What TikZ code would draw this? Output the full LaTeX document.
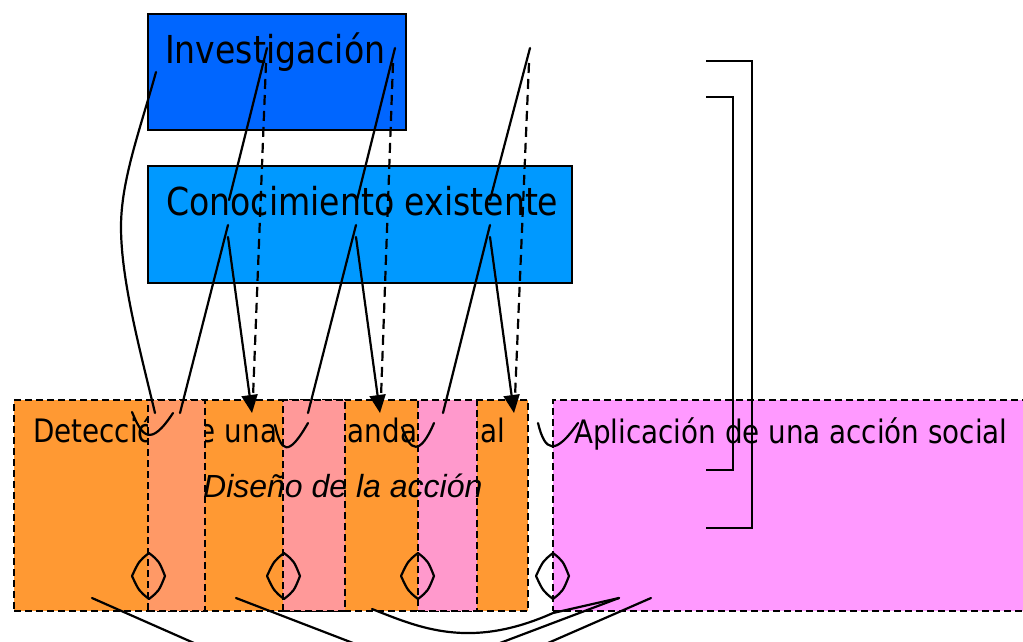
\documentclass[tikz,border=0pt]{standalone}
\usepackage{fontspec}
\newfontfamily\tah{DejaVu Sans}[FakeStretch=0.86]
\newfontfamily\ari{Liberation Sans}
\usetikzlibrary{arrows.meta}
\definecolor{invblue}{HTML}{0066FF}
\definecolor{conblue}{HTML}{0099FF}
\definecolor{orng}{HTML}{FF9933}
\definecolor{salmon}{HTML}{FF9966}
\definecolor{rosa}{HTML}{FF9999}
\definecolor{rosb}{HTML}{FF99CC}
\definecolor{magen}{HTML}{FF99FF}
\tikzset{
  solidbox/.style={draw=black, line width=1.8pt, inner sep=0pt, outer sep=0pt, anchor=north west},
  dashbox/.style={draw=black, line width=2pt, dash pattern=on 7pt off 4pt, inner sep=0pt, outer sep=0pt, anchor=north west},
  conn/.style={line width=2.2pt, line cap=round, line join=round},
  dconn/.style={line width=2.2pt, dash pattern=on 10pt off 6pt},
  arr/.style={conn, -{Triangle[length=18pt,width=16pt]}},
  bigtext/.style={font=\tah\fontsize{38.5}{40}\selectfont, anchor=base west, inner sep=0pt},
  midtext/.style={font=\tah\fontsize{32.3}{36}\selectfont, anchor=base west, inner sep=0pt},
  ittext/.style={font=\ari\itshape\fontsize{32}{36}\selectfont, anchor=base west, inner sep=0pt},
}
\begin{document}
\begin{tikzpicture}[x=1pt,y=-1pt]
\useasboundingbox (0,0) rectangle (1023,641);
% bottom boxes
\node[dashbox, fill=orng, minimum width=514pt, minimum height=211pt] (design) at (14,400) {};
\node[midtext] (det) at (33,442) {Detección de una demanda social};
\node[dashbox, fill=salmon, minimum width=57pt, minimum height=211pt] (s1) at (148,400) {};
\node[dashbox, fill=rosa, minimum width=62pt, minimum height=211pt] (s2) at (283,400) {};
\node[dashbox, fill=rosb, minimum width=59pt, minimum height=211pt] (s3) at (418,400) {};
\node[ittext] (dis) at (203,497) {Diseño de la acción};
\node[dashbox, fill=magen, minimum width=490pt, minimum height=211pt] (apl) at (553,400) {};
\node[midtext] (apltxt) at (574,443) {Aplicación de una acción social};
% top boxes
\node[solidbox, fill=invblue, minimum width=258pt, minimum height=116pt] (inv) at (148,14) {};
\node[bigtext] (invtxt) at (165,63) {Investigación};
\node[solidbox, fill=conblue, minimum width=424pt, minimum height=117pt] (con) at (148,166) {};
\node[bigtext] (contxt) at (166,215) {Conocimiento existente};

% coordinates group A
\coordinate (a0) at (156,72);
\coordinate (am) at (121,227);
\coordinate (a1) at (155,413);
\coordinate (a2s) at (267,48);
\coordinate (a2e) at (229,200);
\coordinate (a3s) at (228,225);
\coordinate (a3e) at (180,413);
\coordinate (a4s) at (228,237);
\coordinate (a4e) at (252,413);
\coordinate (a5s) at (266,63);
\coordinate (a5e) at (253,397);
% group B
\coordinate (b2s) at (395,48);
\coordinate (b2e) at (357,200);
\coordinate (b3s) at (356,225);
\coordinate (b3e) at (308,413);
\coordinate (b4s) at (356,237);
\coordinate (b4e) at (380,413);
\coordinate (b5s) at (393,63);
\coordinate (b5e) at (381,397);
% group C
\coordinate (c2s) at (530,48);
\coordinate (c2e) at (490,200);
\coordinate (c3s) at (490,225);
\coordinate (c3e) at (443,413);
\coordinate (c4s) at (490,237);
\coordinate (c4e) at (514,413);
\coordinate (c5s) at (529,63);
\coordinate (c5e) at (515,397);

\draw[conn] (a0) .. controls (140,130) and (121,180) .. (am)
            .. controls (121,280) and (140,350) .. (a1);
\draw[conn] (a2s) -- (a2e);
\draw[conn] (a3s) -- (a3e);
\draw[arr] (a4s) -- (a4e);
\draw[dconn] (a5s) -- (a5e);
\draw[conn] (b2s) -- (b2e);
\draw[conn] (b3s) -- (b3e);
\draw[arr] (b4s) -- (b4e);
\draw[dconn] (b5s) -- (b5e);
\draw[conn] (c2s) -- (c2e);
\draw[conn] (c3s) -- (c3e);
\draw[arr] (c4s) -- (c4e);
\draw[dconn] (c5s) -- (c5e);

% ticks
\coordinate (t1a) at (132,412); \coordinate (t1b) at (173,413);
\coordinate (t2a) at (275,425); \coordinate (t2b) at (308,423);
\coordinate (t3a) at (402,427); \coordinate (t3b) at (434,423);
\coordinate (t4a) at (538,423); \coordinate (t4b) at (578,423);
\draw[conn] (t1a) .. controls (142,436) and (150,448) .. (t1b);
\draw[conn] (t2a) .. controls (281,452) and (288,458) .. (t2b);
\draw[conn] (t3a) .. controls (410,452) and (420,456) .. (t3b);
\draw[conn] (t4a) .. controls (545,452) and (555,456) .. (t4b);

% lens shapes
\foreach \cx/\nm in {149/d1, 284/d2, 418/d3, 553/d4}{
  \coordinate (\nm t) at (\cx,553);
  \coordinate (\nm l) at (\cx-17,576);
  \coordinate (\nm b) at (\cx,599);
  \coordinate (\nm r) at (\cx+16,576);
  \draw[conn] (\nm t) .. controls (\cx-10,561) .. (\nm l)
              .. controls (\cx-10,591) .. (\nm b)
              .. controls (\cx+10,591) .. (\nm r)
              .. controls (\cx+10,561) .. (\nm t) -- cycle;
}

% bottom curves
\coordinate (e1s) at (92,598);  \coordinate (e1e) at (194,643);
\coordinate (e2s) at (236,598); \coordinate (e2e) at (353,643);
\coordinate (e3s) at (372,609); \coordinate (e3m) at (553,613); \coordinate (e3e) at (619,598);
\coordinate (e4s) at (500,643); \coordinate (e5s) at (548,643); \coordinate (e5e) at (651,598);
\draw[conn] (e1s) -- (e1e);
\draw[conn] (e2s) -- (e2e);
\draw[conn] (e3s) .. controls (420,628) and (470,650) .. (e3m) -- (e3e);
\draw[conn] (e4s) -- (e3e);
\draw[conn] (e5s) -- (e5e);

% brackets
\coordinate (k1a) at (706,61);  \coordinate (k1b) at (706,528);
\coordinate (k2a) at (706,97);  \coordinate (k2b) at (706,470);
\draw[conn, line cap=butt, line join=miter] (k1a) -- (752,61) -- (752,528) -- (k1b);
\draw[conn, line cap=butt, line join=miter] (k2a) -- (733,97) -- (733,470) -- (k2b);
\end{tikzpicture}
\end{document}
